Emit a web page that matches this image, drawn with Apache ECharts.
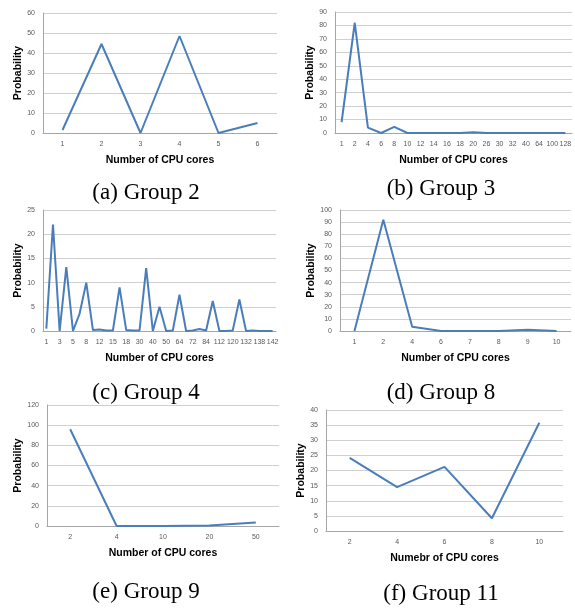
<!DOCTYPE html>
<html>
<head>
<meta charset="utf-8">
<script src="https://cdn.jsdelivr.net/npm/echarts@6/dist/echarts.min.js"></script>
<style>
html,body{margin:0;padding:0;background:#fff;}
#chart{width:575px;height:608px;}
</style>
</head>
<body>
<div id="chart"></div>
<script>
// ---- Data ----
const catsA = ['1','2','3','4','5','6'];
const valsA = [1.5, 44.5, 0, 48.5, 0, 5];

const catsB = ['1','2','4','6','8','10','12','14','16','18','20','26','30','32','40','64','100','128'];
const valsB = [8, 82, 4, 0, 4.5, 0, 0, 0, 0, 0, 0.5, 0, 0, 0, 0, 0, 0, 0];

const catsC = ['1','2','3','4','5','6','8','10','12','14','15','16','18','24','30','32','40','48','50','60',
               '64','70','72','80','84','96','112','116','120','128','132','136','138','140','142'];
const valsC = [0.5, 22, 0, 13.2, 0, 3.6, 10, 0.2, 0.3, 0.1, 0.1, 9, 0.2, 0.1, 0.1, 13, 0, 5, 0, 0.1,
               7.5, 0, 0.1, 0.4, 0.1, 6.2, 0, 0, 0.1, 6.5, 0, 0.1, 0, 0, 0];

const catsD = ['1','2','4','6','7','8','9','10'];
const valsD = [0, 92, 3.5, 0, 0, 0, 1, 0];

const catsE = ['2','4','10','20','50'];
const valsE = [96, 0, 0, 0.5, 3.5];

const catsF = ['2','4','6','8','10'];
const valsF = [24.2, 14.5, 21.2, 4.2, 35.8];

const yMax = [60, 90, 25, 100, 120, 40];
const yStep = [10, 10, 5, 10, 20, 5];
const xNames = ['Number of CPU cores','Number of CPU cores','Number of CPU cores','Number of CPU cores','Number of CPU cores','Numebr of CPU cores'];
const captions = ['(a) Group 2','(b) Group 3','(c) Group 4','(d) Group 8','(e) Group 9','(f) Group 11'];

// ---- Layout ----
const grids = [
  {left: 43, top: 13, width: 234, height: 120},
  {left: 335, top: 12, width: 237, height: 121},
  {left: 43, top: 210, width: 233, height: 121},
  {left: 340, top: 210, width: 231, height: 121},
  {left: 47, top: 405, width: 232, height: 121},
  {left: 326, top: 410, width: 237, height: 121}
];
const capPos = [[146,193],[441,189],[146,393],[441,393],[146,592],[441,594]];

const allCats = [catsA, catsB, catsC, catsD, catsE, catsF];
const allVals = [valsA, valsB, valsC, valsD, valsE, valsF];

const tickFont = {fontSize: 7, color: '#595959', fontFamily: 'Liberation Sans'};
const nameFont = {fontSize: 10.5, fontWeight: 'bold', color: '#000', fontFamily: 'Liberation Sans'};

const xAxis = [], yAxis = [], series = [], graphic = [];
for (let i = 0; i < 6; i++) {
  xAxis.push({
    type: 'category', gridIndex: i, data: allCats[i], boundaryGap: true,
    axisLine: {show: true, lineStyle: {color: '#a6a6a6', width: 1}},
    axisTick: {show: false},
    axisLabel: Object.assign({margin: 8, interval: i === 2 ? 1 : 0}, tickFont),
    name: xNames[i], nameLocation: 'middle', nameGap: 22, nameTextStyle: nameFont
  });
  yAxis.push({
    type: 'value', gridIndex: i, min: 0, max: yMax[i], interval: yStep[i],
    axisLine: {show: true, lineStyle: {color: '#a6a6a6', width: 1}},
    axisTick: {show: false},
    splitLine: {show: true, lineStyle: {color: '#d0d0d0', width: 1}},
    axisLabel: Object.assign({margin: 8}, tickFont),
    name: 'Probability', nameLocation: 'middle', nameRotate: 90, nameGap: 18, nameTextStyle: nameFont
  });
  series.push({
    type: 'line', xAxisIndex: i, yAxisIndex: i, data: allVals[i],
    symbol: 'none', lineStyle: {color: '#4a7ebb', width: 2}, animation: false
  });
  graphic.push({
    type: 'text', x: capPos[i][0], y: capPos[i][1],
    style: {text: captions[i], x: 0, y: 0, align: 'center', verticalAlign: 'middle',
            font: '23px "Liberation Serif", "Times New Roman", serif', fill: '#000'}
  });
}

const chart = echarts.init(document.getElementById('chart'), null, {renderer: 'canvas'});
chart.setOption({
  animation: false,
  grid: grids,
  xAxis: xAxis,
  yAxis: yAxis,
  series: series,
  graphic: graphic
});
</script>
</body>
</html>
